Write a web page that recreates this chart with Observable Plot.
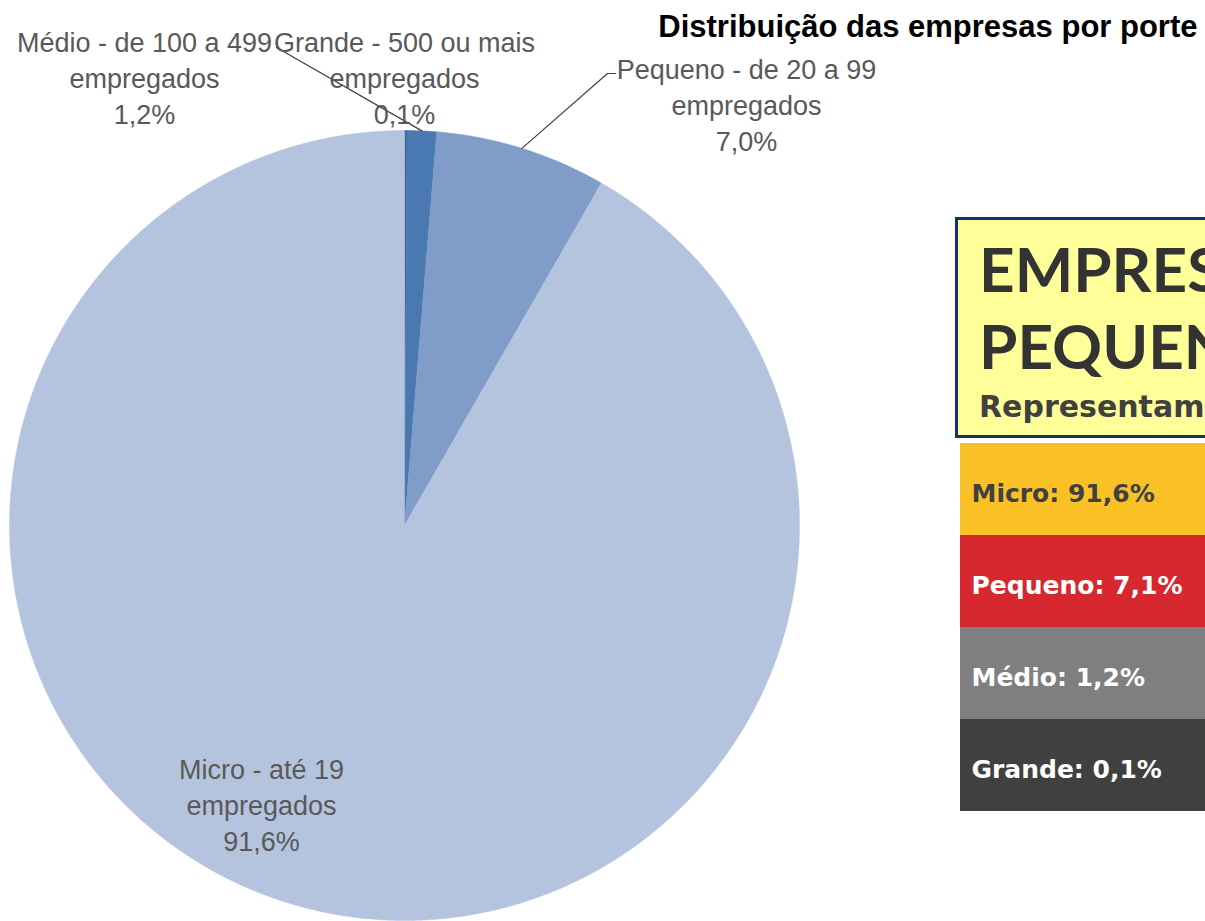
<!DOCTYPE html>
<html>
<head>
<meta charset="utf-8">
<script src="https://cdn.jsdelivr.net/npm/d3@7"></script>
<script src="https://cdn.jsdelivr.net/npm/@observablehq/plot@0.6"></script>
<style>
  body { margin: 0; background: #ffffff; }
  #wrap { position: relative; width: 1205px; height: 921px; overflow: hidden; background: #fff; }
  #chart { position: absolute; left: 0; top: 0; }
  #box { position: absolute; left: 955px; top: 217px; width: 330px; height: 215px;
         background: #ffff99; border: 3px solid #13306b; overflow: hidden; }
  .big { position: absolute; left: 21px; font-family: Lato, "DejaVu Sans", sans-serif; font-weight: 700;
         font-size: 62px; line-height: 62px; color: #333333; white-space: nowrap; }
  .sub { position: absolute; left: 21px; font-family: "DejaVu Sans", sans-serif; font-weight: 700;
         font-size: 30px; line-height: 30px; color: #404040; white-space: nowrap; }
  #rows { position: absolute; left: 960px; top: 442px; }
</style>
</head>
<body>
<div id="wrap">
  <div id="chart"></div>
  <div id="box">
    <div class="big" style="top:17px">EMPRESAS</div>
    <div class="big" style="top:94px">PEQUENAS</div>
    <div class="sub" style="top:172px">Representam</div>
  </div>
  <div id="rows"></div>
</div>
<script>
// ---- Data (pie, clockwise from 12 o'clock) ----
const categories = ["Grande", "Médio", "Pequeno", "Micro"];
const shares = [0.1, 1.2, 7.0, 91.6];
const labelNames = ["Grande - 500 ou mais", "Médio - de 100 a 499", "Pequeno - de 20 a 99", "Micro - até 19"];
const labelUnit = "empregados";
const sliceColors = ["#3b66a0", "#4a78b0", "#7f9dc8", "#b4c4de"];
const chartTitle = "Distribuição das empresas por porte";

// ---- Data (side panel) ----
const panelCategories = ["Micro", "Pequeno", "Médio", "Grande"];
const panelValues = [91.6, 7.1, 1.2, 0.1];
const panelColors = ["#f9c126", "#d7272f", "#7f7f7f", "#404040"];
const panelTextColors = ["#404040", "#ffffff", "#ffffff", "#ffffff"];

// ---- Layout ----
const W = 1205, H = 921;
const CX = 404, CY = 525, R = 395;
// label anchors (center x, cap-top y of first line)
const labelPos = {
  "Grande": [404, 26],
  "Médio": [144, 26],
  "Pequeno": [746, 53],
  "Micro": [261, 753]
};
// leader start points (label side)
const leaderStart = {
  "Médio": [[276, 47]],
  "Pequeno": [[615, 73], [607, 73]]
};

const fmt = v => v.toFixed(1).replace(".", ",");

const arcs = d3.pie().sort(null).value(d => d)(shares);
const pt = (a, r = R) => [CX + r * Math.sin(a), CY - r * Math.cos(a)];

// slice polygons
const sliceMarks = arcs.map((a, i) => {
  const n = Math.max(2, Math.ceil((a.endAngle - a.startAngle) / (Math.PI / 720)));
  const pts = [{x: CX, y: CY}];
  for (let k = 0; k <= n; k++) {
    const [x, y] = pt(a.startAngle + (a.endAngle - a.startAngle) * k / n);
    pts.push({x, y});
  }
  pts.push({x: CX, y: CY});
  return Plot.line(pts, {x: "x", y: "y", fill: sliceColors[i], stroke: sliceColors[i], strokeWidth: 0.5, curve: "linear"});
});

// labels
const labels = categories.map((c, i) => ({
  cat: c,
  x: labelPos[c][0],
  y: labelPos[c][1],
  text: `${labelNames[i]}\n${labelUnit}\n${fmt(shares[i])}%`
}));

// leader lines
const leaders = [];
categories.forEach((c, i) => {
  if (!leaderStart[c]) return;
  const mid = (arcs[i].startAngle + arcs[i].endAngle) / 2;
  const [ex, ey] = pt(mid);
  leaders.push({id: c, x: ex, y: ey});
  leaderStart[c].slice().reverse().forEach(p => leaders.push({id: c, x: p[0], y: p[1]}));
});

const chart = Plot.plot({
  width: W, height: H, margin: 0,
  x: {domain: [0, W], range: [0, W], axis: null},
  y: {domain: [0, H], range: [0, H], axis: null},
  style: {background: "transparent"},
  marks: [
    ...sliceMarks,
    Plot.line(leaders, {x: "x", y: "y", z: "id", stroke: "#404040", strokeWidth: 1.2}),
    Plot.text(labels, {x: "x", y: "y", text: "text", lineAnchor: "top", lineHeight: 1.333,
      fontSize: 27, fill: "#595959", fontFamily: "Liberation Sans, Arial, sans-serif"}),
    Plot.text([chartTitle], {x: () => 1197, y: () => 36, text: d => d, textAnchor: "end", lineAnchor: "bottom",
      fontSize: 31, fontWeight: "bold", fill: "#000000", fontFamily: "Liberation Sans, Arial, sans-serif"})
  ]
});
document.getElementById("chart").appendChild(chart);

// side panel rows
const rows = panelCategories.map((c, i) => ({cat: c, value: panelValues[i], tc: panelTextColors[i]}));
const panel = Plot.plot({
  width: 245, height: 370, margin: 0,
  x: {domain: [0, 1], axis: null},
  y: {domain: panelCategories, padding: 0, axis: null},
  color: {domain: panelCategories, range: panelColors},
  marks: [
    Plot.barX(rows, {x1: 0, x2: 1, y: "cat", fill: "cat"}),
    Plot.text(rows.filter(d => d.tc !== "#ffffff"), {x: 0, y: "cat", dx: 11, dy: 4, textAnchor: "start",
      text: d => `${d.cat}: ${fmt(d.value)}%`, fill: "#404040", fontSize: 25, fontWeight: "bold",
      fontFamily: "DejaVu Sans, sans-serif"}),
    Plot.text(rows.filter(d => d.tc === "#ffffff"), {x: 0, y: "cat", dx: 11, dy: 4, textAnchor: "start",
      text: d => `${d.cat}: ${fmt(d.value)}%`, fill: "#ffffff", fontSize: 25, fontWeight: "bold",
      fontFamily: "DejaVu Sans, sans-serif"})
  ]
});
document.getElementById("rows").appendChild(panel);
</script>
</body>
</html>
